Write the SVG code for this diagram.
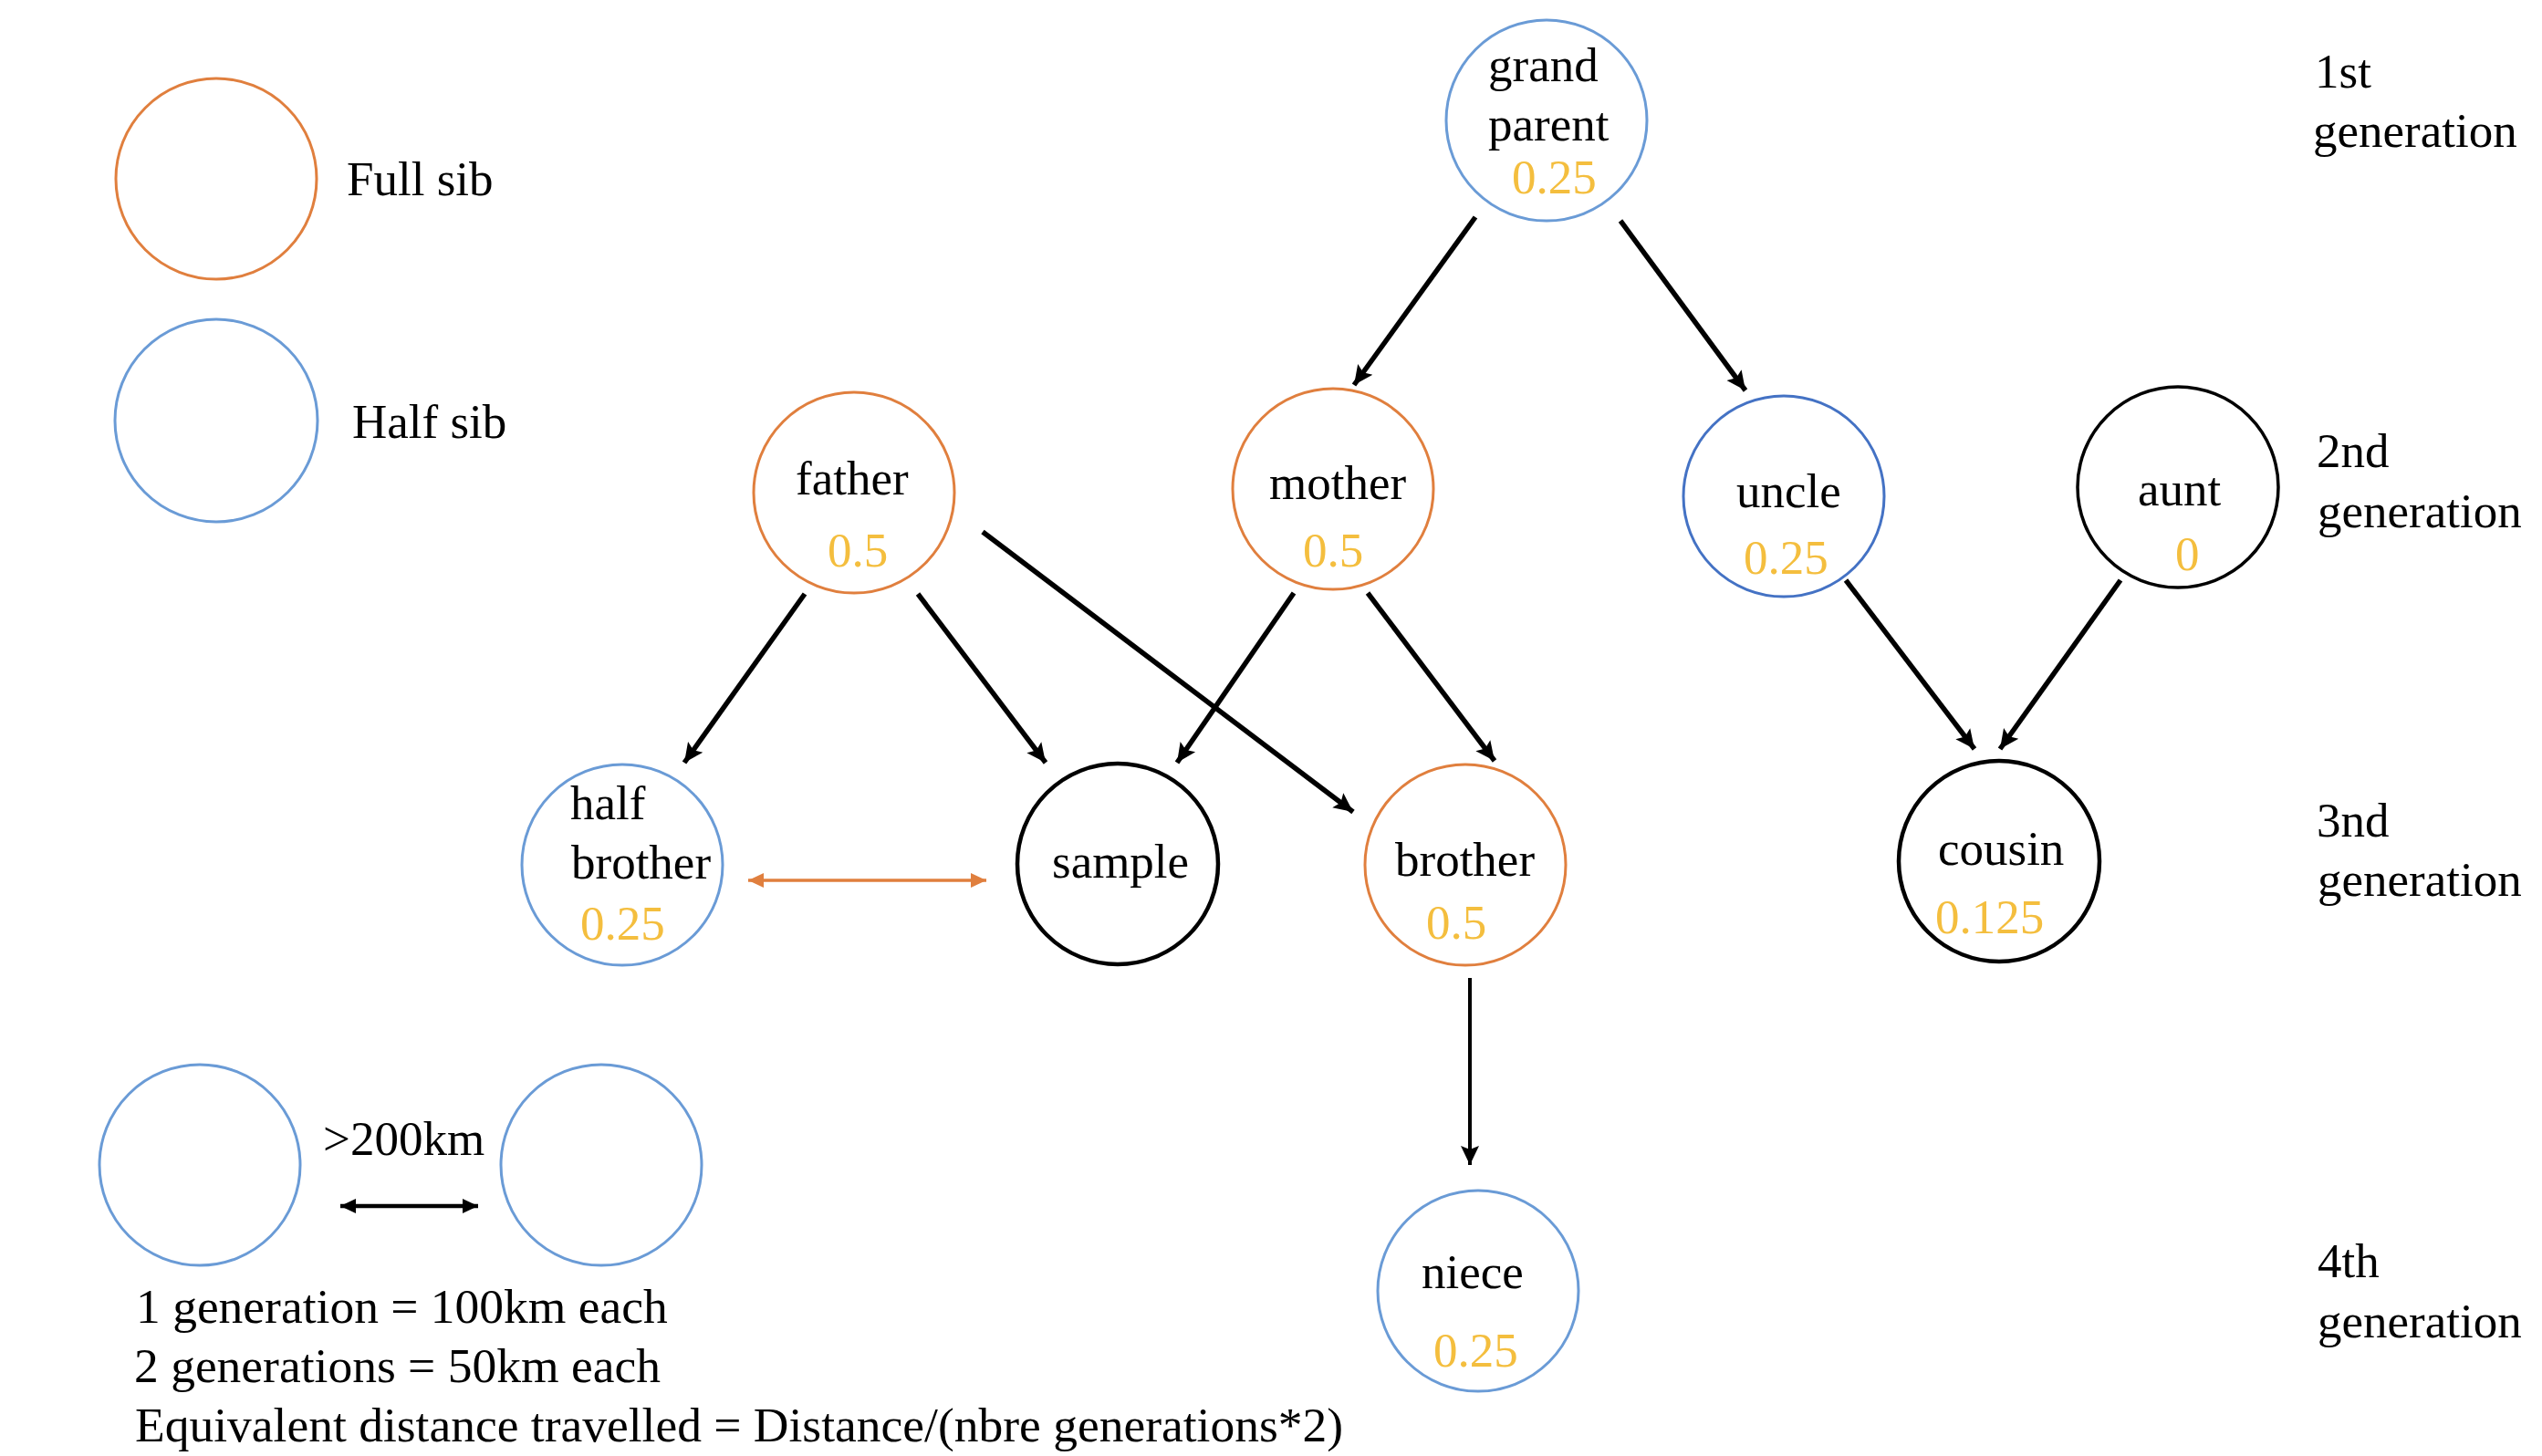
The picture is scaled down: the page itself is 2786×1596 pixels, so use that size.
<svg xmlns="http://www.w3.org/2000/svg" width="2786" height="1596" viewBox="0 0 2786 1596">
<defs>
<style>
text{font-family:"Liberation Serif","Times New Roman",serif;font-size:53px;fill:#000}
.v{fill:#F4BE3E}
.bot{font-size:53.5px}
circle{fill:none;stroke-width:3}
.full{stroke:#E07F3E}
.half{stroke:#6A9BD6}
.dblue{stroke:#4472C4}
.blk{stroke:#000;stroke-width:4.5}
.edge{stroke:#000;stroke-width:5.5;fill:none;marker-end:url(#ah)}
</style>
<marker id="ah" markerUnits="userSpaceOnUse" markerWidth="22" markerHeight="22" viewBox="0 0 22 22" refX="21" refY="11" orient="auto">
<path d="M0,1 L21,11 L0,21 L4,11 Z" fill="#000"/>
</marker>
<marker id="ahs" markerUnits="userSpaceOnUse" markerWidth="18" markerHeight="18" viewBox="0 0 18 18" refX="17" refY="9" orient="auto-start-reverse">
<path d="M0,1 L17,9 L0,17 Z" fill="#000"/>
</marker>
<marker id="aho" markerUnits="userSpaceOnUse" markerWidth="18" markerHeight="18" viewBox="0 0 18 18" refX="17" refY="9" orient="auto-start-reverse">
<path d="M0,1 L17,9 L0,17 Z" fill="#E07F3E"/>
</marker>
</defs>
<rect width="2786" height="1596" fill="#fff"/>

<g id="legend">
<circle class="full" cx="237" cy="196" r="110"/>
<text x="380" y="214">Full sib</text>
<circle class="half" cx="237" cy="461" r="111"/>
<text x="386" y="480">Half sib</text>
<circle class="half" cx="219" cy="1277" r="110"/>
<circle class="half" cx="659" cy="1277" r="110"/>
<text x="354" y="1266">&gt;200km</text>
<text class="bot" x="149" y="1450">1 generation = 100km each</text>
<text class="bot" x="147" y="1515">2 generations = 50km each</text>
<text class="bot" x="148" y="1580">Equivalent distance travelled = Distance/(nbre generations*2)</text>
</g>

<g id="generations">
<text x="2537" y="96">1st</text>
<text x="2535" y="161">generation</text>
<text x="2539" y="512">2nd</text>
<text x="2540" y="578">generation</text>
<text x="2539" y="917">3nd</text>
<text x="2540" y="982">generation</text>
<text x="2540" y="1400">4th</text>
<text x="2540" y="1466">generation</text>
</g>

<g id="connectors">
<line class="edge" x1="1617" y1="238" x2="1484" y2="422"/>
<line class="edge" x1="1776" y1="242" x2="1913" y2="428"/>
<line class="edge" x1="882" y1="651" x2="750" y2="836"/>
<line class="edge" x1="1006" y1="651" x2="1146" y2="836"/>
<line class="edge" x1="1077" y1="583" x2="1483" y2="890"/>
<line class="edge" x1="1418" y1="650" x2="1290" y2="836"/>
<line class="edge" x1="1499" y1="650" x2="1638" y2="834"/>
<line class="edge" x1="2023" y1="636" x2="2164" y2="821"/>
<line class="edge" x1="2324" y1="636" x2="2192" y2="821"/>
<line class="edge" style="stroke-width:4" x1="1611" y1="1072" x2="1611" y2="1277"/>
<line x1="820" y1="965" x2="1081" y2="965" stroke="#E07F3E" stroke-width="3.5" marker-start="url(#aho)" marker-end="url(#aho)"/>
<line x1="373" y1="1322" x2="524" y2="1322" stroke="#000" stroke-width="4.5" marker-start="url(#ahs)" marker-end="url(#ahs)"/>
</g>

<g id="grandparent">
<circle class="half" cx="1695" cy="132" r="110"/>
<text x="1631" y="89">grand</text>
<text x="1631" y="154">parent</text>
<text class="v" x="1657" y="212">0.25</text>
</g>
<g id="father">
<circle class="full" cx="936" cy="540" r="110"/>
<text x="872" y="542">father</text>
<text class="v" x="907" y="621">0.5</text>
</g>
<g id="mother">
<circle class="full" cx="1461" cy="536" r="110"/>
<text x="1391" y="547">mother</text>
<text class="v" x="1428" y="621">0.5</text>
</g>
<g id="uncle">
<circle class="dblue" cx="1955" cy="544" r="110"/>
<text x="1903" y="556">uncle</text>
<text class="v" x="1911" y="629">0.25</text>
</g>
<g id="aunt">
<circle class="blk" cx="2387" cy="534" r="110" style="stroke-width:3.5"/>
<text x="2343" y="554">aunt</text>
<text class="v" x="2384" y="625">0</text>
</g>
<g id="halfbrother">
<circle class="half" cx="682" cy="948" r="110"/>
<text x="625" y="898">half</text>
<text x="626" y="963">brother</text>
<text class="v" x="636" y="1030">0.25</text>
</g>
<g id="sample">
<circle class="blk" cx="1225" cy="947" r="110"/>
<text x="1153" y="962">sample</text>
</g>
<g id="brother">
<circle class="full" cx="1606" cy="948" r="110"/>
<text x="1529" y="960">brother</text>
<text class="v" x="1563" y="1029">0.5</text>
</g>
<g id="cousin">
<circle class="blk" cx="2191" cy="944" r="110"/>
<text x="2124" y="948">cousin</text>
<text class="v" x="2121" y="1023">0.125</text>
</g>
<g id="niece">
<circle class="half" cx="1620" cy="1415" r="110"/>
<text x="1558" y="1412">niece</text>
<text class="v" x="1571" y="1498">0.25</text>
</g>
</svg>
